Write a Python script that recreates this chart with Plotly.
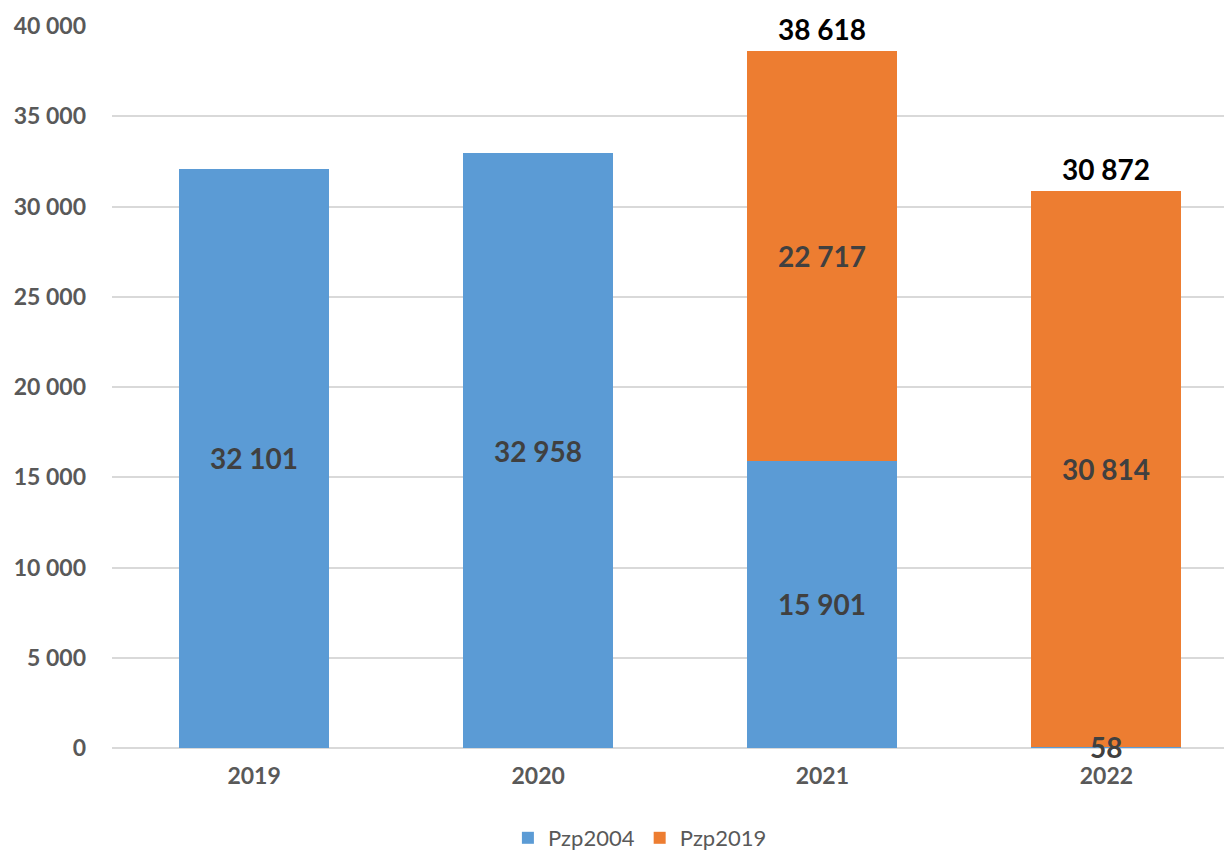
import plotly.graph_objects as go

# ── Data ──────────────────────────────────────────────────────────────────────
years = ["2019", "2020", "2021", "2022"]
pzp2004 = [32101, 32958, 15901, 58]
pzp2019 = [0, 0, 22717, 30814]

BLUE = "#5B9BD5"
ORANGE = "#ED7D31"
FONT = "Lato, 'Open Sans', sans-serif"


def fmt(v):
    return f"{v:,}".replace(",", " ")


fig = go.Figure()
fig.add_trace(go.Bar(x=years, y=pzp2004, name="Pzp2004", marker_color=BLUE,
                     marker_line_width=0))
fig.add_trace(go.Bar(x=years, y=pzp2019, name="Pzp2019", marker_color=ORANGE,
                     marker_line_width=0))

# segment labels (centred) and totals for stacked bars
# (x given as category index – year strings would be read as numbers)
for i, (a, b) in enumerate(zip(pzp2004, pzp2019)):
    if a:
        fig.add_annotation(x=i, y=a / 2, text=f"<b>{fmt(a)}</b>", showarrow=False,
                           font=dict(size=28, color="#404040", family=FONT))
    if b:
        fig.add_annotation(x=i, y=a + b / 2, text=f"<b>{fmt(b)}</b>", showarrow=False,
                           font=dict(size=28, color="#404040", family=FONT))
    if a and b:
        fig.add_annotation(x=i, y=a + b, text=f"<b>{fmt(a + b)}</b>", showarrow=False,
                           yanchor="bottom", yshift=3,
                           font=dict(size=28, color="#000000", family=FONT))

fig.update_layout(
    width=1232, height=851,
    barmode="stack", bargap=0.472,
    paper_bgcolor="white", plot_bgcolor="white",
    margin=dict(l=104, r=0, t=18, b=103),
    font=dict(family=FONT, color="#595959"),
    showlegend=True,
    legend=dict(orientation="h", x=0.468, xanchor="center", y=-0.125, yanchor="middle",
                font=dict(size=22, color="#595959"), traceorder="normal"),
    xaxis=dict(type="category", range=[-0.5, 3.47], automargin=False,
               tickvals=years, ticktext=[f"<b>{y}</b>" for y in years],
               tickfont=dict(size=23, color="#595959", family=FONT),
               showline=False, ticks="", ticklabelstandoff=12),
    yaxis=dict(range=[0, 40000], automargin=False,
               tickvals=list(range(0, 40001, 5000)),
               ticktext=[f"<b>{fmt(v)}</b>" for v in range(0, 40001, 5000)],
               gridcolor="#D9D9D9", gridwidth=1.5, zeroline=True,
               zerolinecolor="#D9D9D9", zerolinewidth=1.5,
               tickfont=dict(size=23, color="#595959", family=FONT),
               ticklabelstandoff=25),
)

fig.write_html("out.html")
